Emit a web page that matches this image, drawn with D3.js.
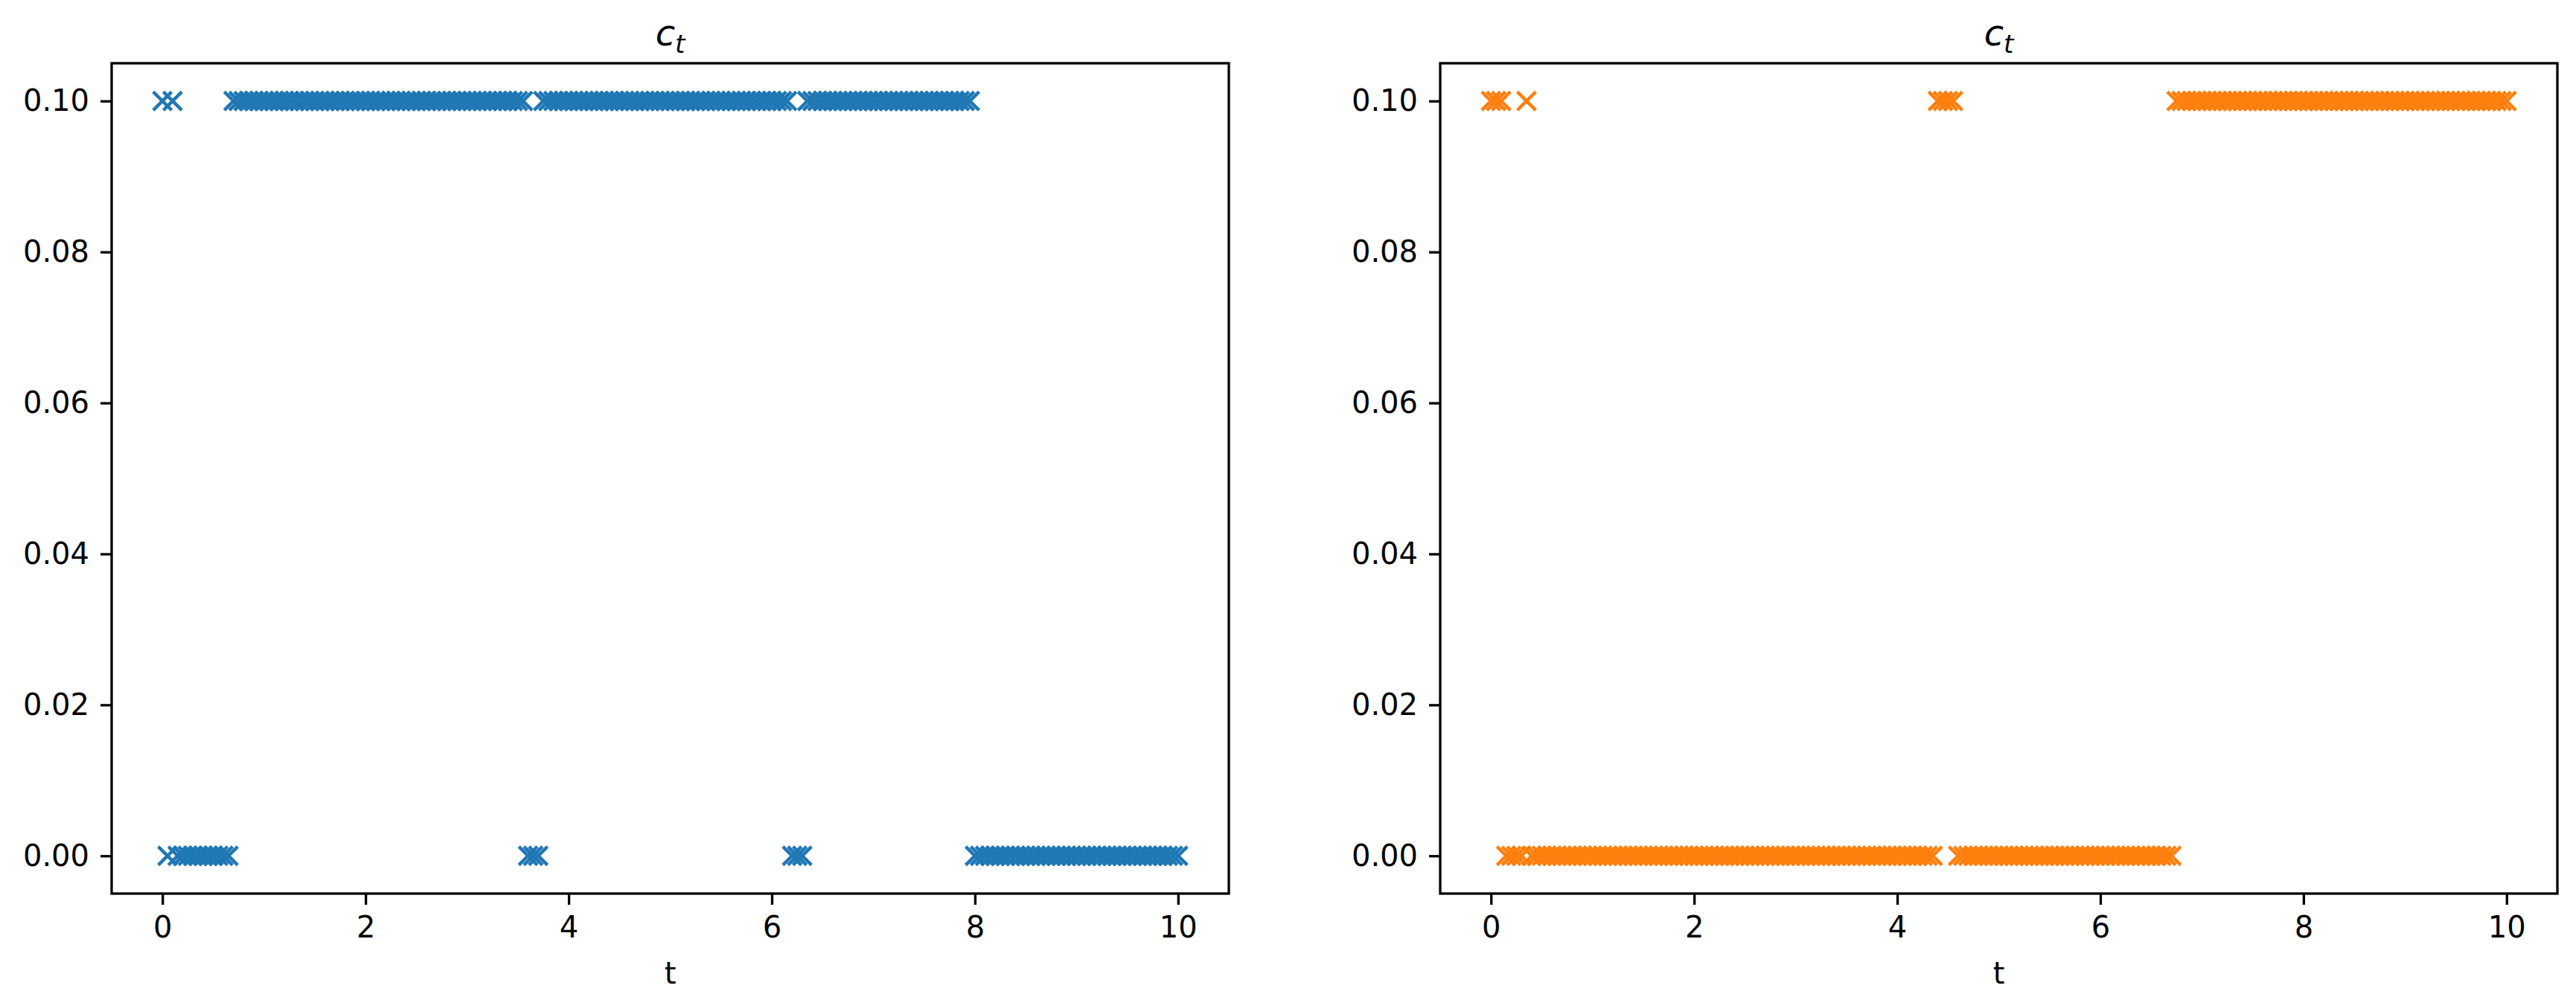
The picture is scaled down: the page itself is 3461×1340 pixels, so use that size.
<!DOCTYPE html>
<html>
<head>
<meta charset="utf-8">
<script src="https://cdn.jsdelivr.net/npm/d3@7/dist/d3.min.js"></script>
<style>
  body { margin: 0; background: #fff; }
  text { font-family: "DejaVu Sans", sans-serif; fill: #000; }
</style>
</head>
<body>
<div id="canvas"></div>
<script>
// sample times: t = 0, 0.05, ..., 10
var tStep = 0.05;
var nSamples = 201;

// c_t per sample: "1" -> 0.10, "0" -> 0.00
// one group of 20 samples per unit of t, last group is t = 10
var blueStates =
  "10100000000000111111 11111111111111111111 11111111111111111111 " +
  "11111111111100011111 11111111111111111111 11111111111111111111 " +
  "11110001111111111111 11111111111111111111 00000000000000000000 " +
  "00000000000000000000 0";
var orangeStates =
  "11100001000000000000 00000000000000000000 00000000000000000000 " +
  "00000000000000000000 00000000111100000000 00000000000000000000 " +
  "00000000000000011111 11111111111111111111 11111111111111111111 " +
  "11111111111111111111 1";

var cLevels = [0.0, 0.1];
var xTicks = [0, 2, 4, 6, 8, 10];
var yTicks = [0.0, 0.02, 0.04, 0.06, 0.08, 0.1];
var titleMain = "c", titleSub = "t", xLabel = "t";

function parseStates(s) {
  var chars = s.replace(/ /g, "").split("");
  return chars.map(function(ch, i) {
    return { t: i * tStep, c: cLevels[+ch] };
  });
}

function run() {
  var width = 3461,
    height = 1340;

  var svg = d3
    .select("#canvas")
    .append("svg")
    .attr("width", width)
    .attr("height", height);

  var top = 85,
    panelW = 1501,
    panelH = 1116,
    m = 12.4; // half size of the x marker

  var panels = [
    { left: 150, states: blueStates, color: "#1f77b4" },
    { left: 1935, states: orangeStates, color: "#ff7f0e" }
  ];

  panels.forEach(function(p) {
    var g = svg
      .append("g")
      .attr("transform", "translate(" + p.left + "," + top + ")");

    var x = d3.scaleLinear().domain([-0.5, 10.5]).range([0, panelW]);
    var y = d3.scaleLinear().domain([-0.005, 0.105]).range([panelH, 0]);

    var data = parseStates(p.states);

    g.append("g")
      .selectAll("path")
      .data(data)
      .enter()
      .append("path")
      .attr("d", "M" + -m + "," + -m + "L" + m + "," + m + "M" + -m + "," + m + "L" + m + "," + -m)
      .attr("transform", function(d) {
        return "translate(" + x(d.t) + "," + y(d.c) + ")";
      })
      .style("fill", "none")
      .style("stroke", p.color)
      .style("stroke-width", 4.4);

    var xAxis = g
      .append("g")
      .attr("transform", "translate(0," + panelH + ")")
      .call(
        d3
          .axisBottom(x)
          .tickValues(xTicks)
          .tickSize(15)
          .tickSizeOuter(0)
          .tickPadding(16)
          .tickFormat(d3.format("d"))
      );

    var yAxis = g.append("g").call(
      d3
        .axisLeft(y)
        .tickValues(yTicks)
        .tickSize(15)
        .tickSizeOuter(0)
        .tickPadding(15)
        .tickFormat(d3.format(".2f"))
    );

    [xAxis, yAxis].forEach(function(a) {
      a.attr("font-size", 40).attr("font-family", "DejaVu Sans");
      a.select(".domain").remove();
      a.selectAll(".tick line").style("stroke", "#000").style("stroke-width", 3.3);
      a.selectAll(".tick text").style("fill", "#000");
    });

    g.append("rect")
      .attr("x", 0)
      .attr("y", 0)
      .attr("width", panelW)
      .attr("height", panelH)
      .style("fill", "none")
      .style("stroke", "#000")
      .style("stroke-width", 3.3);

    var title = g
      .append("text")
      .attr("x", panelW / 2)
      .attr("y", -24)
      .attr("text-anchor", "middle")
      .style("font-size", "48px")
      .style("font-style", "italic");
    title.append("tspan").text(titleMain);
    title
      .append("tspan")
      .attr("dy", 10)
      .style("font-size", "34px")
      .text(titleSub);

    g.append("text")
      .attr("x", panelW / 2)
      .attr("y", 1237)
      .attr("text-anchor", "middle")
      .style("font-size", "40px")
      .text(xLabel);
  });
}

(function() {
  run();
})();
</script>
</body>
</html>
